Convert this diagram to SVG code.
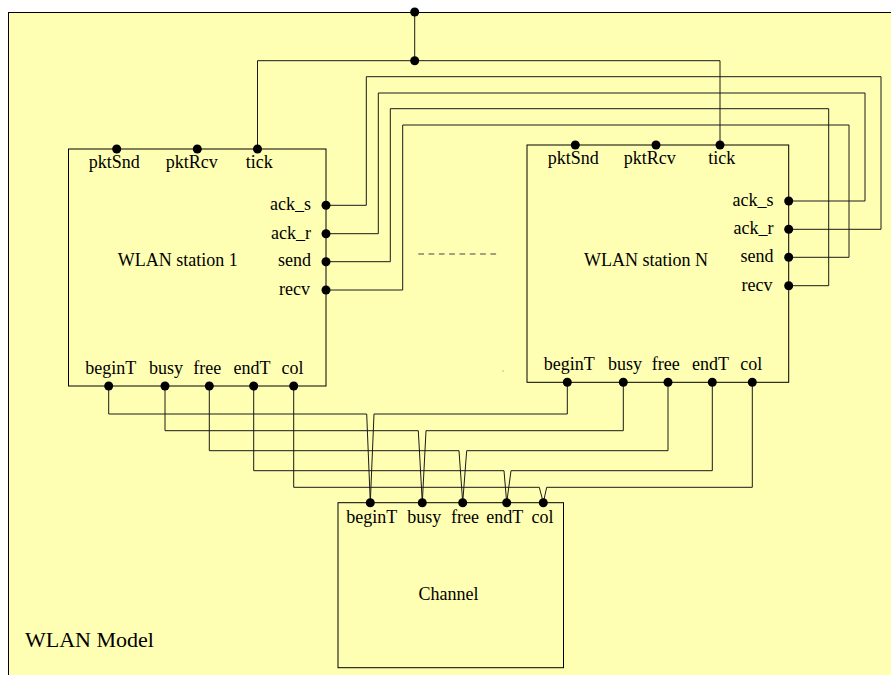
<svg xmlns="http://www.w3.org/2000/svg" width="891" height="675" viewBox="0 0 891 675" font-family="'Liberation Serif', 'Times New Roman', 'DejaVu Serif', serif" font-size="18">
<style>
.box{fill:none;stroke:#000;stroke-width:1}
.w{fill:none;stroke:#1a1a1a;stroke-width:1}
.p{fill:#000}
.t{font-family:'Liberation Serif','Times New Roman','DejaVu Serif',serif;font-size:18px;fill:#000}
.m{text-anchor:middle}
.e{text-anchor:end}
</style>
<rect x="0" y="0" width="891" height="675" fill="#fff"/>
<rect id="frame" x="8.5" y="12.5" width="900" height="700" fill="#FFFFB4" stroke="#000" stroke-width="1"/>
<text class="t" x="25" y="647" font-size="22" style="font-size:22px">WLAN Model</text>
<g id="connectors">
<polyline class="w" points="414.7,12 414.7,60.7"/>
<polyline class="w" points="257.5,149 257.5,60.7 720,60.7 720,145"/>
<polyline class="w" points="326,205.3 366.3,205.3 366.3,76.7 881,76.7 881,229.3 788.7,229.3"/>
<polyline class="w" points="326,233.7 378.3,233.7 378.3,93 865,93 865,201 788.7,201"/>
<polyline class="w" points="326,261.7 390.3,261.7 390.3,108.7 828.7,108.7 828.7,285.7 788.7,285.7"/>
<polyline class="w" points="326,290 402.7,290 402.7,125 849,125 849,257.3 788.7,257.3"/>
<polyline class="w" points="108.7,386 108.7,414 366.7,414 370.3,502.7"/>
<polyline class="w" points="165,386 165,430.7 418.3,430.7 422.3,502.7"/>
<polyline class="w" points="209.3,386 209.3,450.7 459,450.7 462.7,502.7"/>
<polyline class="w" points="253.7,386 253.7,470.7 504,470.7 506.7,502.7"/>
<polyline class="w" points="293.7,386 293.7,487.3 539.3,487.3 543.3,502.7"/>
<polyline class="w" points="567.3,382.3 567.3,414 374,414 370.3,502.7"/>
<polyline class="w" points="623.3,382.3 623.3,430.7 426,430.7 422.3,502.7"/>
<polyline class="w" points="668,382.3 668,450.7 466.7,450.7 462.7,502.7"/>
<polyline class="w" points="712.3,382.3 712.3,470.7 511,470.7 506.7,502.7"/>
<polyline class="w" points="752.3,382.3 752.3,487.3 546.7,487.3 543.3,502.7"/>
<line x1="418.3" y1="254" x2="500" y2="254" stroke="#444" stroke-width="1" stroke-dasharray="5.7 4.6"/>
<circle class="p" cx="414.7" cy="12" r="4.5"/>
<circle class="p" cx="414.7" cy="60.7" r="4.5"/>
<circle cx="503" cy="371" r="0.6" fill="#666"/>
</g>
<g id="station1">
<rect class="box" x="68.5" y="149" width="257.5" height="237"/>
<text class="t m" x="177.8" y="265.5">WLAN station 1</text>
<circle class="p" cx="116.7" cy="149" r="4.5"/><text class="t m" x="114.2" y="167.5">pktSnd</text>
<circle class="p" cx="197.3" cy="149" r="4.5"/><text class="t m" x="191.7" y="167.5">pktRcv</text>
<circle class="p" cx="257.5" cy="149" r="4.5"/><text class="t m" x="259.3" y="167.5">tick</text>
<circle class="p" cx="326" cy="205.3" r="4.5"/><text class="t e" x="311" y="210.3">ack_s</text>
<circle class="p" cx="326" cy="233.7" r="4.5"/><text class="t e" x="311" y="238.5">ack_r</text>
<circle class="p" cx="326" cy="261.7" r="4.5"/><text class="t e" x="311" y="266">send</text>
<circle class="p" cx="326" cy="290" r="4.5"/><text class="t e" x="310" y="294.5">recv</text>
<circle class="p" cx="108.7" cy="386" r="4.5"/><text class="t m" x="110.8" y="374">beginT</text>
<circle class="p" cx="165" cy="386" r="4.5"/><text class="t m" x="166" y="374">busy</text>
<circle class="p" cx="209.3" cy="386" r="4.5"/><text class="t m" x="207.3" y="374">free</text>
<circle class="p" cx="253.7" cy="386" r="4.5"/><text class="t m" x="252" y="374">endT</text>
<circle class="p" cx="293.7" cy="386" r="4.5"/><text class="t m" x="292.5" y="374">col</text>
</g>
<g id="stationN">
<rect class="box" x="527" y="145" width="261.7" height="237.3"/>
<text class="t m" x="646" y="265.5">WLAN station N</text>
<circle class="p" cx="575.3" cy="145" r="4.5"/><text class="t m" x="573.3" y="163.5">pktSnd</text>
<circle class="p" cx="656" cy="145" r="4.5"/><text class="t m" x="649.8" y="163.5">pktRcv</text>
<circle class="p" cx="720" cy="145" r="4.5"/><text class="t m" x="721.7" y="163.5">tick</text>
<circle class="p" cx="788.7" cy="201" r="4.5"/><text class="t e" x="773.5" y="206">ack_s</text>
<circle class="p" cx="788.7" cy="229.3" r="4.5"/><text class="t e" x="773.5" y="234">ack_r</text>
<circle class="p" cx="788.7" cy="257.3" r="4.5"/><text class="t e" x="773.5" y="262">send</text>
<circle class="p" cx="788.7" cy="285.7" r="4.5"/><text class="t e" x="772.5" y="290.5">recv</text>
<circle class="p" cx="567.3" cy="382.3" r="4.5"/><text class="t m" x="569.2" y="370">beginT</text>
<circle class="p" cx="623.3" cy="382.3" r="4.5"/><text class="t m" x="625" y="370">busy</text>
<circle class="p" cx="668" cy="382.3" r="4.5"/><text class="t m" x="665.8" y="370">free</text>
<circle class="p" cx="712.3" cy="382.3" r="4.5"/><text class="t m" x="710.5" y="370">endT</text>
<circle class="p" cx="752.3" cy="382.3" r="4.5"/><text class="t m" x="751.3" y="370">col</text>
</g>
<g id="channel">
<rect class="box" x="338" y="502.7" width="225.5" height="165"/>
<text class="t m" x="448.6" y="600">Channel</text>
<circle class="p" cx="370.3" cy="502.7" r="4.5"/><text class="t m" x="371.7" y="522.5">beginT</text>
<circle class="p" cx="422.3" cy="502.7" r="4.5"/><text class="t m" x="424.2" y="522.5">busy</text>
<circle class="p" cx="462.7" cy="502.7" r="4.5"/><text class="t m" x="465" y="522.5">free</text>
<circle class="p" cx="506.7" cy="502.7" r="4.5"/><text class="t m" x="504.7" y="522.5">endT</text>
<circle class="p" cx="543.3" cy="502.7" r="4.5"/><text class="t m" x="542.5" y="522.5">col</text>
</g>
</svg>
